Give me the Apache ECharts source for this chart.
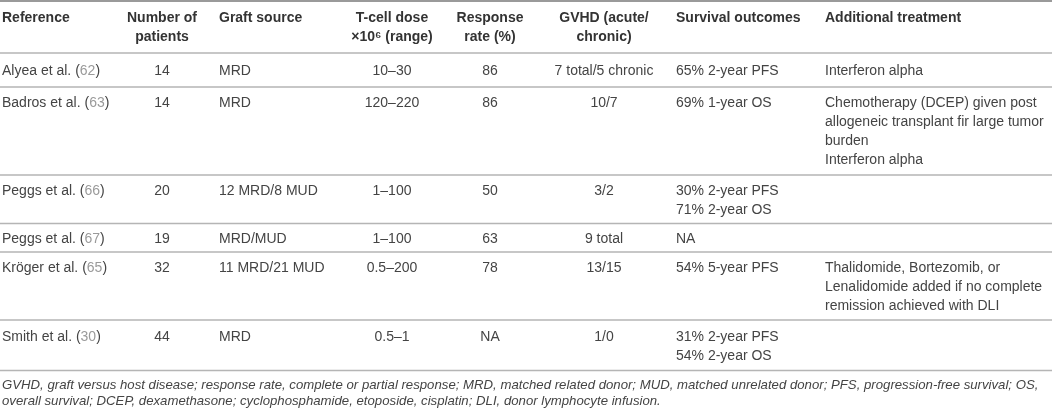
<!DOCTYPE html>
<html>
<head>
<meta charset="utf-8">
<script src="https://cdn.jsdelivr.net/npm/echarts@6/dist/echarts.min.js"></script>
<style>
html,body{margin:0;padding:0;background:#fff;}
#chart{width:1052px;height:413px;}
</style>
</head>
<body>
<div id="chart"></div>
<script>
// ---- table content ----
const headers = [["Reference"], ["Number of", "patients"], ["Graft source"], ["T-cell dose", "×10⁶ (range)"], ["Response", "rate (%)"], ["GVHD (acute/", "chronic)"], ["Survival outcomes"], ["Additional treatment"]];
const references = ["Alyea et al.", "Badros et al.", "Peggs et al.", "Peggs et al.", "Kröger et al.", "Smith et al."];
const refNumbers = ["62", "63", "66", "67", "65", "30"];
const patients = ["14", "14", "20", "19", "32", "44"];
const graftSource = ["MRD", "MRD", "12 MRD/8 MUD", "MRD/MUD", "11 MRD/21 MUD", "MRD"];
const tCellDose = ["10–30", "120–220", "1–100", "1–100", "0.5–200", "0.5–1"];
const responseRate = ["86", "86", "50", "63", "78", "NA"];
const gvhd = ["7 total/5 chronic", "10/7", "3/2", "9 total", "13/15", "1/0"];
const survival = [["65% 2-year PFS"], ["69% 1-year OS"], ["30% 2-year PFS", "71% 2-year OS"], ["NA"], ["54% 5-year PFS"], ["31% 2-year PFS", "54% 2-year OS"]];
const additional = [["Interferon alpha"], ["Chemotherapy (DCEP) given post", "allogeneic transplant fir large tumor", "burden", "Interferon alpha"], [], [], ["Thalidomide, Bortezomib, or", "Lenalidomide added if no complete", "remission achieved with DLI"], []];
const footnote = [
  "GVHD, graft versus host disease; response rate, complete or partial response; MRD, matched related donor; MUD, matched unrelated donor; PFS, progression-free survival; OS,",
  "overall survival; DCEP, dexamethasone; cyclophosphamide, etoposide, cisplatin; DLI, donor lymphocyte infusion."
];

// ---- layout ----
const colX = [2, 162, 219, 392, 490, 604, 676, 825];
const colAlign = ['left', 'center', 'left', 'center', 'center', 'center', 'left', 'left'];
const rowLines = [53, 87, 175, 223.5, 252, 320, 370.5]; // separator y positions (header bottom, then each row bottom)
const FAMILY = '"Liberation Sans", Arial, Helvetica, sans-serif';
const BODY = { fontFamily: FAMILY, fontSize: 14, fill: '#444' };
const HEAD = { fontFamily: FAMILY, fontSize: 14, fontWeight: 'bold', fill: '#333' };
const FOOT = { fontFamily: FAMILY, fontSize: 13.2, fontStyle: 'italic', fill: '#444' };
const LINE_H = 19;

const elements = [];
function addText(x, y, text, st, align, rich) {
  const style = Object.assign({ text: text, textAlign: align, align: align, textVerticalAlign: 'middle', verticalAlign: 'middle' }, st);
  if (rich) style.rich = rich;
  elements.push({ type: 'text', x: x, y: y, silent: true, style: style });
}
function addLine(y, color, w) {
  elements.push({ type: 'line', silent: true, shape: { x1: 0, y1: y, x2: 1052, y2: y }, style: { stroke: color, lineWidth: w } });
}

// top border
addLine(1, '#9a9a9a', 2);
// header
headers.forEach((lines, c) => {
  lines.forEach((t, i) => addText(colX[c], 18 + i * 19, t, HEAD, colAlign[c]));
});
addLine(rowLines[0], '#b5b5b5', 1.5);

const rich = { n: { fontFamily: FAMILY, fontSize: 14, fill: '#9a9a9a' } };
for (let r = 0; r < references.length; r++) {
  const cells = [
    [references[r] + ' ({n|' + refNumbers[r] + '})'],
    [patients[r]], [graftSource[r]], [tCellDose[r]], [responseRate[r]], [gvhd[r]],
    survival[r], additional[r]
  ];
  const top = rowLines[r], bottom = rowLines[r + 1];
  const n = Math.max.apply(null, cells.map(c => c.length));
  const y0 = (top + bottom) / 2 + 1 - (n - 1) * LINE_H / 2;
  cells.forEach((lines, c) => {
    lines.forEach((t, i) => addText(colX[c], y0 + i * LINE_H, t, BODY, colAlign[c], c === 0 ? rich : null));
  });
  addLine(bottom, '#b5b5b5', 1.5);
}

footnote.forEach((t, i) => addText(2, 385 + i * 16.5, t, FOOT, 'left'));

const chart = echarts.init(document.getElementById('chart'), null, { renderer: 'canvas' });
chart.setOption({
  backgroundColor: '#fff',
  animation: false,
  graphic: { elements: elements }
});
</script>
</body>
</html>
